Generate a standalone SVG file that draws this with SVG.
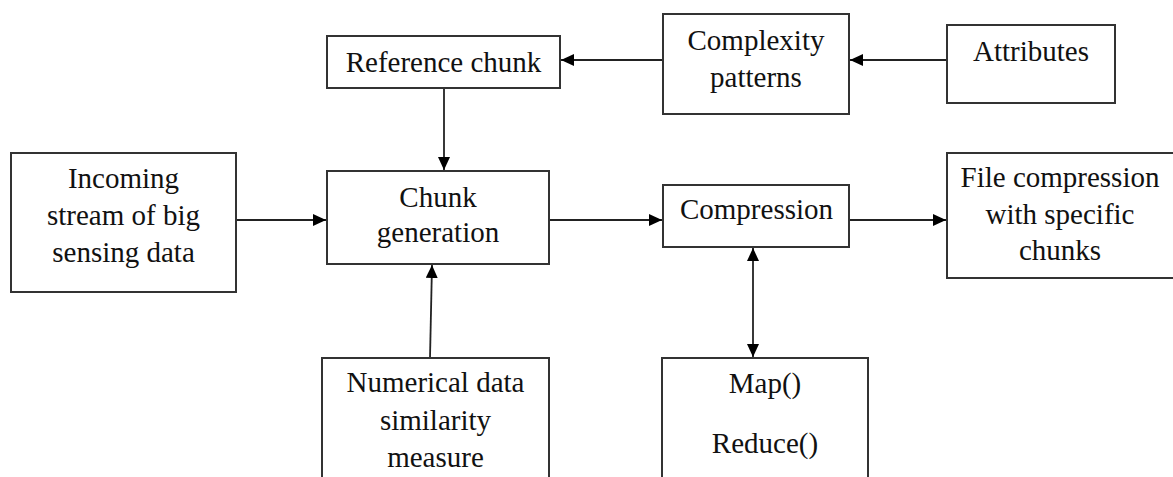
<svg xmlns="http://www.w3.org/2000/svg" width="1173" height="477" viewBox="0 0 1173 477">
  <style>
    .box { fill: #ffffff; stroke: #333333; stroke-width: 2; }
    .lbl { font-family: "Liberation Serif", "Times New Roman", serif; font-size: 29px; fill: #111111; text-anchor: middle; }
    .edge { stroke: #222222; stroke-width: 1.8; fill: none; }
  </style>
  <defs>
    <marker id="arrowEnd" viewBox="0 0 13 12" refX="13" refY="6" markerWidth="13" markerHeight="12" markerUnits="userSpaceOnUse" orient="auto">
      <path d="M0,0 L13,6 L0,12 Z" fill="#000000"/>
    </marker>
    <marker id="arrowStart" viewBox="0 0 13 12" refX="0" refY="6" markerWidth="13" markerHeight="12" markerUnits="userSpaceOnUse" orient="auto">
      <path d="M13,0 L0,6 L13,12 Z" fill="#000000"/>
    </marker>
  </defs>

  <rect width="1173" height="477" fill="#ffffff"/>

  <g id="connectors">
    <line class="edge" x1="663" y1="60" x2="561" y2="60" marker-end="url(#arrowEnd)"/>
    <line class="edge" x1="947" y1="60" x2="850" y2="60" marker-end="url(#arrowEnd)"/>
    <line class="edge" x1="444" y1="88" x2="444" y2="170" marker-end="url(#arrowEnd)"/>
    <line class="edge" x1="236" y1="220" x2="326" y2="220" marker-end="url(#arrowEnd)"/>
    <line class="edge" x1="430" y1="358" x2="432" y2="265" marker-end="url(#arrowEnd)"/>
    <line class="edge" x1="549" y1="220" x2="662" y2="220" marker-end="url(#arrowEnd)"/>
    <line class="edge" x1="849" y1="220" x2="946" y2="220" marker-end="url(#arrowEnd)"/>
    <line class="edge" x1="753" y1="248" x2="753" y2="357" marker-start="url(#arrowStart)" marker-end="url(#arrowEnd)"/>
  </g>

  <g id="node-reference-chunk">
    <rect class="box" x="327" y="36" width="233" height="52"/>
    <text class="lbl" x="443.5" y="72">Reference chunk</text>
  </g>

  <g id="node-complexity-patterns">
    <rect class="box" x="663" y="14" width="186" height="100"/>
    <text class="lbl" x="756" y="50">Complexity</text>
    <text class="lbl" x="756" y="87">patterns</text>
  </g>

  <g id="node-attributes">
    <rect class="box" x="947" y="25" width="168" height="78"/>
    <text class="lbl" x="1031" y="61">Attributes</text>
  </g>

  <g id="node-incoming-stream">
    <rect class="box" x="11" y="153" width="225" height="139"/>
    <text class="lbl" x="123.5" y="188">Incoming</text>
    <text class="lbl" x="123.5" y="225">stream of big</text>
    <text class="lbl" x="123.5" y="262">sensing data</text>
  </g>

  <g id="node-chunk-generation">
    <rect class="box" x="327" y="171" width="222" height="93"/>
    <text class="lbl" x="438" y="207">Chunk</text>
    <text class="lbl" x="438" y="242">generation</text>
  </g>

  <g id="node-compression">
    <rect class="box" x="663" y="185" width="186" height="62"/>
    <text class="lbl" x="756.5" y="219">Compression</text>
  </g>

  <g id="node-file-compression">
    <rect class="box" x="947" y="153" width="240" height="125"/>
    <text class="lbl" x="1060" y="187">File compression</text>
    <text class="lbl" x="1060" y="224">with specific</text>
    <text class="lbl" x="1060" y="260">chunks</text>
  </g>

  <g id="node-numerical-similarity">
    <rect class="box" x="322" y="358" width="227" height="140"/>
    <text class="lbl" x="435.5" y="392">Numerical data</text>
    <text class="lbl" x="435.5" y="430">similarity</text>
    <text class="lbl" x="435.5" y="467">measure</text>
  </g>

  <g id="node-map-reduce">
    <rect class="box" x="662" y="358" width="206" height="140"/>
    <text class="lbl" x="765" y="393">Map()</text>
    <text class="lbl" x="765" y="453">Reduce()</text>
  </g>
</svg>
